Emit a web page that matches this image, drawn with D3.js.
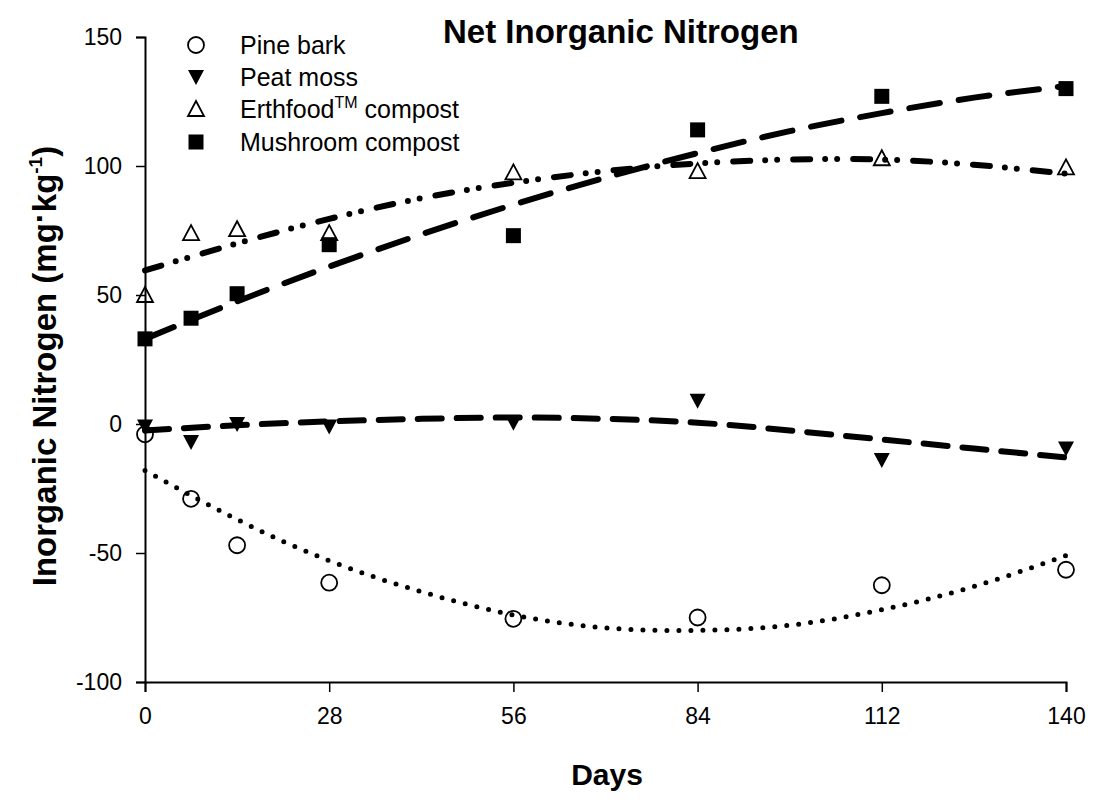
<!DOCTYPE html>
<html>
<head>
<meta charset="utf-8">
<script src="https://cdn.jsdelivr.net/npm/d3@7"></script>
<style>
  body { margin: 0; background: #fff; }
  svg { display: block; font-family: "Liberation Sans", Arial, sans-serif; }
</style>
</head>
<body>
<svg id="chart" width="1094" height="804"></svg>
<script>
// ---- Data ----
const days = [0, 7, 14, 28, 56, 84, 112, 140];
const pineBark = [-4, -29, -47, -61.5, -75.5, -75, -62.5, -56.5];
const peatMoss = [-1, -7, 0, -1, 0.5, 9, -14, -9.5];
const erthfood = [50, 74, 75.5, 74, 97.5, 98, 103, 99.5];
const mushroom = [33, 41, 50.5, 69.5, 73, 114, 127, 130];

// fitted regression curves, read at these days
const fitDays = [0, 14, 28, 42, 56, 70, 84, 98, 112, 126, 140];
const pineFit = [-18, -37, -53, -65, -74, -79, -80, -78, -72, -63, -51];
const peatFit = [-2.5, -0.5, 1, 2, 2.5, 2, 0.5, -2.5, -6, -9.5, -13];
const erthFit = [59.5, 70, 79.5, 87.5, 93.5, 98, 101, 102.5, 102.5, 100.5, 97];
const mushFit = [33, 47.5, 61, 73.5, 85, 95.5, 105, 113.5, 120.5, 126.5, 131];

const xTicks = [0, 28, 56, 84, 112, 140];
const yTicks = [-100, -50, 0, 50, 100, 150];
const seriesNames = ["Pine bark", "Peat moss", "Erthfood", "Mushroom compost"];

(function () {
// ---- Layout ----
const svg = d3.select("#chart");
const mLeft = 145, mRight = 1066, mTop = 37, mBottom = 682;
const x = d3.scaleLinear().domain([0, 140]).range([mLeft, mRight]);
const y = d3.scaleLinear().domain([-100, 150]).range([mBottom, mTop]);

svg.append("rect").attr("width", 1094).attr("height", 804).attr("fill", "#fff");

// ---- Axes ----
const yAxis = svg.append("g").attr("transform", `translate(${mLeft},0)`)
  .call(d3.axisLeft(y).tickValues(yTicks).tickSize(9).tickPadding(14).tickFormat(d => String(d)));
const xAxis = svg.append("g").attr("transform", `translate(0,${mBottom})`)
  .call(d3.axisBottom(x).tickValues(xTicks).tickSize(10).tickPadding(16).tickFormat(d => String(d)));
[yAxis, xAxis].forEach(g => {
  g.select(".domain").attr("stroke", "#000").attr("stroke-width", 2);
  g.selectAll(".tick line").attr("stroke", "#000").attr("stroke-width", 1.5);
  g.selectAll(".tick text").attr("fill", "#000").attr("font-size", 23)
    .attr("font-family", "Liberation Sans, Arial, sans-serif");
});

// ---- Fit curves ----
const line = d3.line().x(d => x(d[0])).y(d => y(d[1])).curve(d3.curveNatural);
const fits = [
  { vals: pineFit, dash: "0 12", w: 5 },
  { vals: peatFit, dash: "24 15", w: 6 },
  { vals: erthFit, dash: "17 15 0 12 0 16", w: 6 },
  { vals: mushFit, dash: "31 19", w: 6 }
];
fits.forEach(f => {
  svg.append("path")
    .datum(fitDays.map((d, i) => [d, f.vals[i]]))
    .attr("d", line)
    .attr("fill", "none")
    .attr("stroke", "#000")
    .attr("stroke-width", f.w)
    .attr("stroke-linecap", "round")
    .attr("stroke-dasharray", f.dash);
});

// ---- Markers ----
function drawMarker(g, type, cx, cy) {
  if (type === 0) {
    g.append("circle").attr("cx", cx).attr("cy", cy).attr("r", 8)
      .attr("fill", "none").attr("stroke", "#000").attr("stroke-width", 1.8);
  } else if (type === 1) {
    g.append("path").attr("d", `M${cx - 8},${cy - 7} L${cx + 8},${cy - 7} L${cx},${cy + 8} Z`)
      .attr("fill", "#000");
  } else if (type === 2) {
    g.append("path").attr("d", `M${cx - 8},${cy + 7} L${cx + 8},${cy + 7} L${cx},${cy - 8} Z`)
      .attr("fill", "none").attr("stroke", "#000").attr("stroke-width", 1.8);
  } else {
    g.append("rect").attr("x", cx - 7.5).attr("y", cy - 7.5).attr("width", 15).attr("height", 15)
      .attr("fill", "#000");
  }
}
const seriesVals = [pineBark, peatMoss, erthfood, mushroom];
const mg = svg.append("g");
seriesVals.forEach((vals, s) => {
  days.forEach((d, i) => drawMarker(mg, s, x(d), y(vals[i])));
});

// ---- Legend ----
const legY = [45, 77, 109, 142];
const lg = svg.append("g");
seriesVals.forEach((v, s) => {
  drawMarker(lg, s, 196, legY[s]);
});
const legText = lg.selectAll("text.leg").data(seriesNames).enter().append("text")
  .attr("class", "leg").attr("x", 240).attr("y", (d, i) => legY[i] + 9)
  .attr("font-size", 25).attr("fill", "#000");
legText.each(function(d, i) {
  const t = d3.select(this);
  if (i === 2) {
    t.append("tspan").text("Erthfood");
    t.append("tspan").text("TM").attr("font-size", 16).attr("dy", -10);
    t.append("tspan").text(" compost").attr("dy", 10);
  } else {
    t.text(d);
  }
});

// ---- Titles ----
svg.append("text").attr("x", 443).attr("y", 43).attr("text-anchor", "start")
  .attr("font-size", 33).attr("font-weight", "bold").text("Net Inorganic Nitrogen");
svg.append("text").attr("x", 607).attr("y", 785).attr("text-anchor", "middle")
  .attr("font-size", 30).attr("font-weight", "bold").text("Days");
const yl = svg.append("text").attr("transform", "translate(56,366) rotate(-90)")
  .attr("text-anchor", "middle").attr("font-size", 33).attr("font-weight", "bold");
yl.append("tspan").text("Inorganic Nitrogen (mg");
yl.append("tspan").text("·").attr("dy", -5);
yl.append("tspan").text("kg").attr("dy", 5);
yl.append("tspan").text("-1").attr("font-size", 19).attr("dy", -14);
yl.append("tspan").text(")").attr("dy", 14);
})();
</script>
</body>
</html>
